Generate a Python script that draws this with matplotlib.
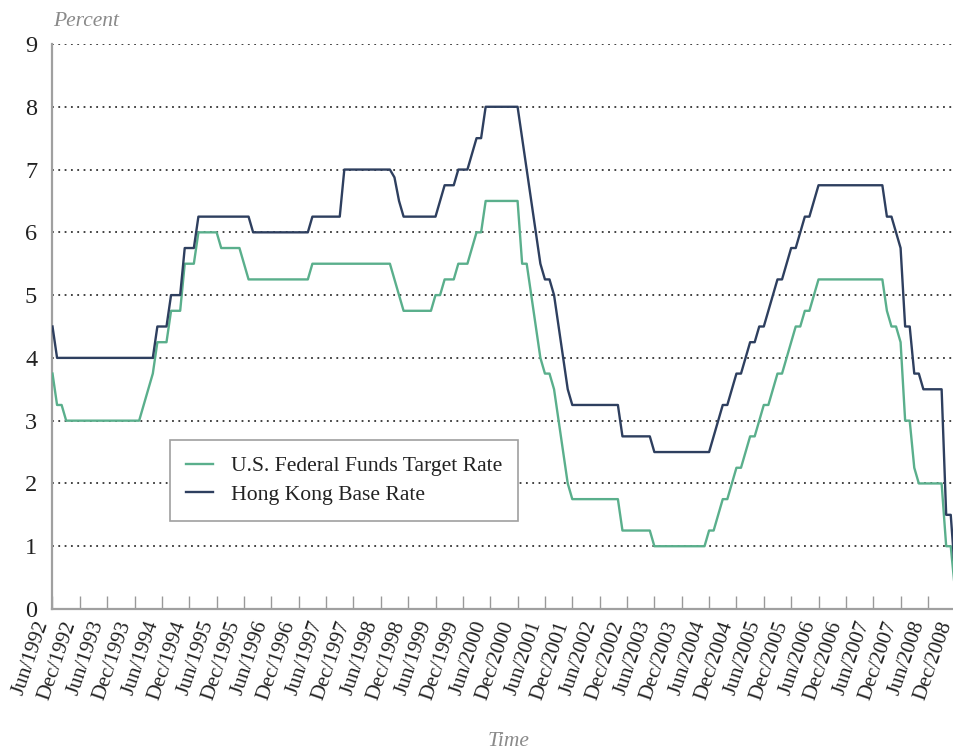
import matplotlib
matplotlib.use("Agg")
import matplotlib.pyplot as plt
import matplotlib.transforms as mtransforms
import numpy as np

# Monthly data, Jun 1992 .. Dec 2008
years_months = []
month_names = ["Jan", "Feb", "Mar", "Apr", "May", "Jun", "Jul", "Aug", "Sep", "Oct", "Nov", "Dec"]
for y in range(1992, 2009):
    for m in range(12):
        if y == 1992 and m < 5:
            continue
        years_months.append((y, m))

us_fed = [
    # 1992 Jun-Dec
    3.75, 3.25, 3.25, 3.0, 3.0, 3.0, 3.0,
    # 1993
    3.0, 3.0, 3.0, 3.0, 3.0, 3.0, 3.0, 3.0, 3.0, 3.0, 3.0, 3.0,
    # 1994
    3.0, 3.25, 3.5, 3.75, 4.25, 4.25, 4.25, 4.75, 4.75, 4.75, 5.5, 5.5,
    # 1995
    5.5, 6.0, 6.0, 6.0, 6.0, 6.0, 5.75, 5.75, 5.75, 5.75, 5.75, 5.5,
    # 1996
    5.25, 5.25, 5.25, 5.25, 5.25, 5.25, 5.25, 5.25, 5.25, 5.25, 5.25, 5.25,
    # 1997
    5.25, 5.25, 5.5, 5.5, 5.5, 5.5, 5.5, 5.5, 5.5, 5.5, 5.5, 5.5,
    # 1998
    5.5, 5.5, 5.5, 5.5, 5.5, 5.5, 5.5, 5.5, 5.25, 5.0, 4.75, 4.75,
    # 1999
    4.75, 4.75, 4.75, 4.75, 4.75, 5.0, 5.0, 5.25, 5.25, 5.25, 5.5, 5.5,
    # 2000
    5.5, 5.75, 6.0, 6.0, 6.5, 6.5, 6.5, 6.5, 6.5, 6.5, 6.5, 6.5,
    # 2001
    5.5, 5.5, 5.0, 4.5, 4.0, 3.75, 3.75, 3.5, 3.0, 2.5, 2.0, 1.75,
    # 2002
    1.75, 1.75, 1.75, 1.75, 1.75, 1.75, 1.75, 1.75, 1.75, 1.75, 1.25, 1.25,
    # 2003
    1.25, 1.25, 1.25, 1.25, 1.25, 1.0, 1.0, 1.0, 1.0, 1.0, 1.0, 1.0,
    # 2004
    1.0, 1.0, 1.0, 1.0, 1.0, 1.25, 1.25, 1.5, 1.75, 1.75, 2.0, 2.25,
    # 2005
    2.25, 2.5, 2.75, 2.75, 3.0, 3.25, 3.25, 3.5, 3.75, 3.75, 4.0, 4.25,
    # 2006
    4.5, 4.5, 4.75, 4.75, 5.0, 5.25, 5.25, 5.25, 5.25, 5.25, 5.25, 5.25,
    # 2007
    5.25, 5.25, 5.25, 5.25, 5.25, 5.25, 5.25, 5.25, 4.75, 4.5, 4.5, 4.25,
    # 2008
    3.0, 3.0, 2.25, 2.0, 2.0, 2.0, 2.0, 2.0, 2.0, 1.0, 1.0, 0.25,
]

hk_base = [
    # 1992 Jun-Dec
    4.5, 4.0, 4.0, 4.0, 4.0, 4.0, 4.0,
    # 1993
    4.0, 4.0, 4.0, 4.0, 4.0, 4.0, 4.0, 4.0, 4.0, 4.0, 4.0, 4.0,
    # 1994
    4.0, 4.0, 4.0, 4.0, 4.5, 4.5, 4.5, 5.0, 5.0, 5.0, 5.75, 5.75,
    # 1995
    5.75, 6.25, 6.25, 6.25, 6.25, 6.25, 6.25, 6.25, 6.25, 6.25, 6.25, 6.25,
    # 1996
    6.25, 6.0, 6.0, 6.0, 6.0, 6.0, 6.0, 6.0, 6.0, 6.0, 6.0, 6.0,
    # 1997
    6.0, 6.0, 6.25, 6.25, 6.25, 6.25, 6.25, 6.25, 6.25, 7.0, 7.0, 7.0,
    # 1998
    7.0, 7.0, 7.0, 7.0, 7.0, 7.0, 7.0, 7.0, 6.875, 6.5, 6.25, 6.25,
    # 1999
    6.25, 6.25, 6.25, 6.25, 6.25, 6.25, 6.5, 6.75, 6.75, 6.75, 7.0, 7.0,
    # 2000
    7.0, 7.25, 7.5, 7.5, 8.0, 8.0, 8.0, 8.0, 8.0, 8.0, 8.0, 8.0,
    # 2001
    7.5, 7.0, 6.5, 6.0, 5.5, 5.25, 5.25, 5.0, 4.5, 4.0, 3.5, 3.25,
    # 2002
    3.25, 3.25, 3.25, 3.25, 3.25, 3.25, 3.25, 3.25, 3.25, 3.25, 2.75, 2.75,
    # 2003
    2.75, 2.75, 2.75, 2.75, 2.75, 2.5, 2.5, 2.5, 2.5, 2.5, 2.5, 2.5,
    # 2004
    2.5, 2.5, 2.5, 2.5, 2.5, 2.5, 2.75, 3.0, 3.25, 3.25, 3.5, 3.75,
    # 2005
    3.75, 4.0, 4.25, 4.25, 4.5, 4.5, 4.75, 5.0, 5.25, 5.25, 5.5, 5.75,
    # 2006
    5.75, 6.0, 6.25, 6.25, 6.5, 6.75, 6.75, 6.75, 6.75, 6.75, 6.75, 6.75,
    # 2007
    6.75, 6.75, 6.75, 6.75, 6.75, 6.75, 6.75, 6.75, 6.25, 6.25, 6.0, 5.75,
    # 2008
    4.5, 4.5, 3.75, 3.75, 3.5, 3.5, 3.5, 3.5, 3.5, 1.5, 1.5, 0.5,
]

series_labels = ["U.S. Federal Funds Target Rate", "Hong Kong Base Rate"]
colors = ["#5aaf8c", "#2e3f5f"]

x = np.arange(len(years_months))
tick_idx = [i for i, (y, m) in enumerate(years_months) if m in (5, 11)]
tick_labels = [f"{month_names[years_months[i][1]]}/{years_months[i][0]}" for i in tick_idx]

plt.rcParams['font.family'] = ['Liberation Serif', 'DejaVu Serif']

W, H = 954, 750
fig = plt.figure(figsize=(W / 100, H / 100), dpi=100)
left, right, bottom, top = 52.5, 955.3, 609, 44
ax = fig.add_axes([left / W, (H - bottom) / H, (right - left) / W, (bottom - top) / H])

ax.plot(x, us_fed, color=colors[0], lw=1.7, label=series_labels[0], zorder=3)
ax.plot(x, hk_base, color=colors[1], lw=1.7, label=series_labels[1], zorder=4)

ax.set_xlim(0, len(x) - 1)
ax.set_ylim(0, 9)
ax.set_yticks(range(0, 10))
ax.set_yticklabels([str(v) for v in range(0, 10)], fontsize=17.5, color="#222222")
ax.tick_params(axis='y', length=0, pad=11)

ax.set_xticks(tick_idx)
ax.set_xticklabels(tick_labels, rotation=71, ha='right', va='center',
                   rotation_mode='anchor', fontsize=15.3, color="#222222")
ax.tick_params(axis='x', direction='in', length=9.5, width=1, color="#999999", pad=9)
shift = mtransforms.ScaledTranslation(-8.5 / 100, 0, fig.dpi_scale_trans)
for lbl in ax.get_xticklabels():
    lbl.set_transform(lbl.get_transform() + shift)

for v in range(1, 10):
    ax.axhline(v, color="#333333", lw=1.3, linestyle=(0, (1, 2.5)), zorder=1)

for s in ("top", "right"):
    ax.spines[s].set_visible(False)
for s in ("left", "bottom"):
    ax.spines[s].set_color("#a0a0a0")
    ax.spines[s].set_linewidth(1.6)

leg = ax.legend(loc='upper left', bbox_to_anchor=((170 - left) / (right - left), (bottom - 440) / (bottom - top)),
                frameon=True, fancybox=False, framealpha=1, edgecolor="#a0a0a0",
                fontsize=15.6, handlelength=1.25, handletextpad=0.8, borderpad=0.75,
                labelspacing=0.38, borderaxespad=0)
leg.get_frame().set_linewidth(1.2)
for t in leg.get_texts():
    t.set_color("#222222")
leg.set_zorder(10)

fig.text(53 / W, 1 - 22 / H, "Percent", fontsize=15.5, style='italic', color="#8a8a8a",
         ha='left', va='center')
fig.text(509 / W, 1 - 741 / H, "Time", fontsize=15.5, style='italic', color="#8a8a8a",
         ha='center', va='center')

fig.savefig("out.png", dpi=100)
